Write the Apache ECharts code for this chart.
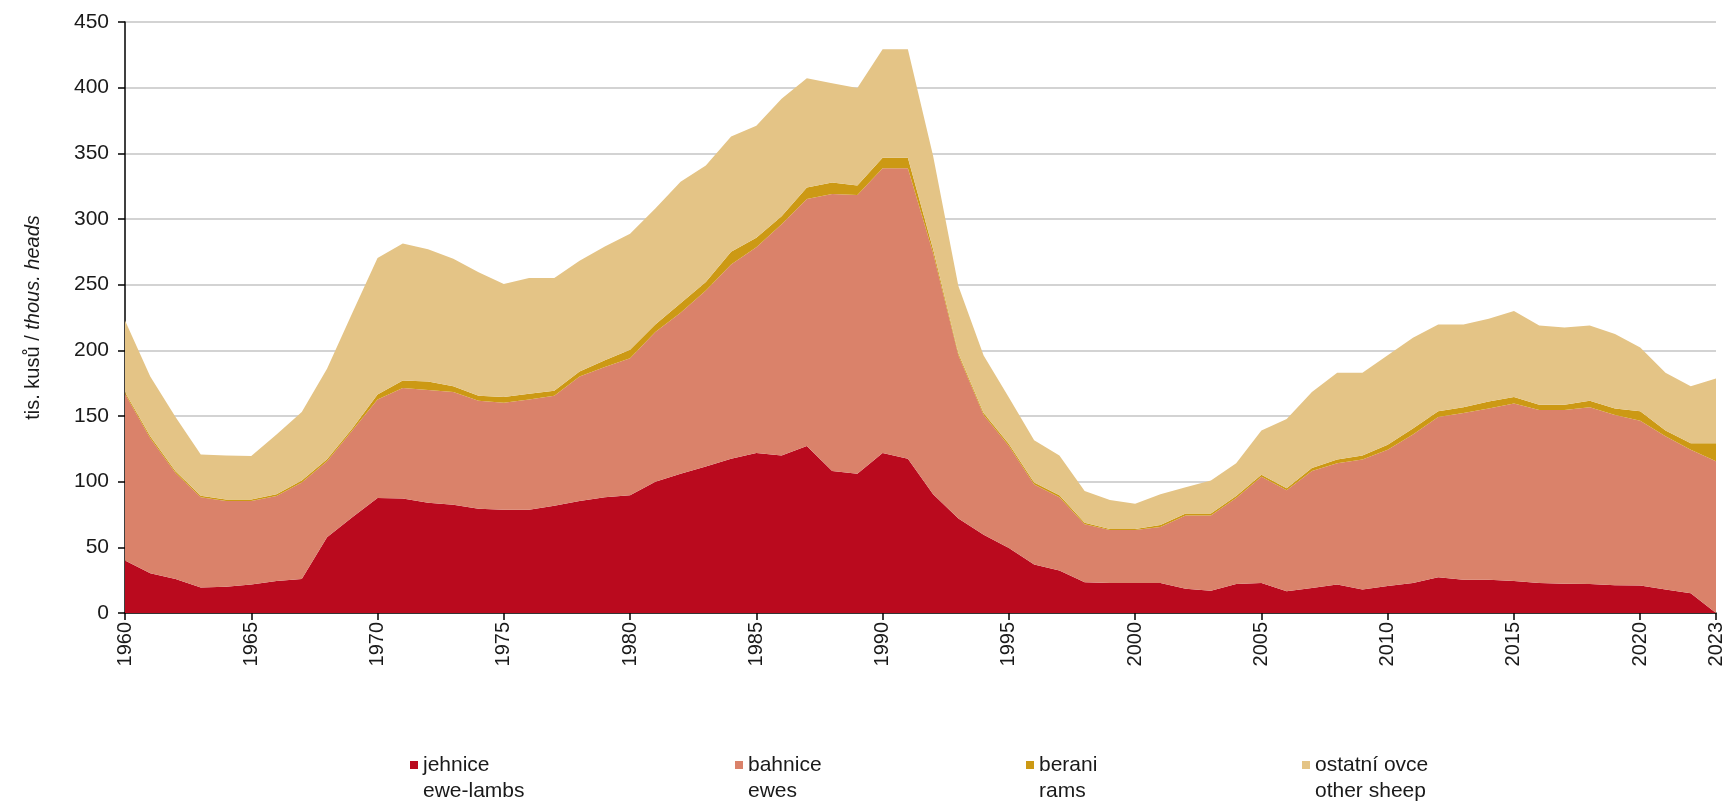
<!DOCTYPE html>
<html>
<head>
<meta charset="utf-8">
<script src="https://cdn.jsdelivr.net/npm/echarts@6/dist/echarts.min.js"></script>
<style>
html,body{margin:0;padding:0;background:#fff;}
#chart{width:1731px;height:802px;}
</style>
</head>
<body>
<div id="chart"></div>
<script>
const years = ['1960','1961','1962','1963','1964','1965','1966','1967','1968','1969',
  '1970','1971','1972','1973','1974','1975','1976','1977','1978','1979',
  '1980','1981','1982','1983','1984','1985','1986','1987','1988','1989',
  '1990','1991','1992','1993','1994','1995','1996','1997','1998','1999',
  '2000','2001','2002','2003','2004','2005','2006','2007','2008','2009',
  '2010','2011','2012','2013','2014','2015','2016','2017','2018','2019',
  '2020','2021','2022','2023'];
const shownYears = ['1960','1965','1970','1975','1980','1985','1990','1995','2000','2005','2010','2015','2020','2023'];

const eweLambs = [40,30.3,25.9,19.4,20,21.7,24.4,25.9,57.6,72.9,
  87.5,87.2,84,82.5,79.3,78.7,78.7,81.7,85.2,88.1,
  89.6,99.9,106,111.6,117.5,121.9,119.9,127.2,108.1,106,
  121.9,117.5,90.5,72,59.6,49.4,37,32.3,23.5,22.9,
  22.9,22.9,18.5,17,22,22.9,16.5,19,21.7,17.9,
  20.6,22.9,27.3,25.3,25.3,24.4,22.9,22.3,22,21.2,
  20.9,17.9,15,0];
const ewes = [126.9,102.7,80.7,68.7,65.2,63.5,64.6,73.4,57.9,66.1,
  75,84.1,85.8,85.8,82.3,81.4,83.8,83.7,94.8,99.3,
  104.3,114,122.6,134,147.8,156.6,176.1,188,210.9,212.2,
  216.8,221.2,183.5,124.2,91.1,77.8,60.8,55.8,44.1,40.3,
  40.3,42.6,55.8,57.3,65.5,80.8,76.9,89.1,92.3,99,
  103.7,113.1,121.9,126.9,130.4,135.1,131.6,132.2,134.6,129.5,
  125.4,116.6,109.3,115.5];
const rams = [1.4,1.5,1.4,1.2,1.2,1.2,1.5,1.5,1.5,1.4,
  3.8,5.8,6.5,4.4,3.8,4.4,4.4,3.8,3.9,5,
  6.5,5.8,7.3,6.4,9.7,7.3,6,8.8,8.8,7.3,
  7.9,7.9,3,1.5,1.5,1.5,1.5,1.5,1.1,0.8,
  0.8,1.5,1.5,1.5,1.5,1.5,1.5,2.4,2.9,3,
  3.8,4.4,4.4,4.4,5.3,5,4.1,4.1,5,5,
  7.3,4.5,5,13.8];
const otherSheep = [54.4,45.5,41.2,31.4,33.5,33.2,45.5,52.2,69,88.1,
  104,104.3,100.7,97,94,86.1,88.1,85.8,84.3,86.6,
  88.4,88.2,92.5,88.8,87.8,85.2,89.6,83.2,75.5,74.3,
  82.6,82.6,71,51.3,43.8,35.3,32.3,30.3,24.1,22.1,
  19.1,23.5,20,25,25,33.8,52.9,57.8,66.1,63.1,
  68.1,69.1,66.1,63.1,63.1,65.5,60.3,58.8,57.3,56.7,
  48.5,44,43.4,49.3];

const seriesNames = ['jehnice','bahnice','berani','ostatní ovce'];
const seriesNamesEn = ['ewe-lambs','ewes','rams','other sheep'];
const seriesData = [eweLambs, ewes, rams, otherSheep];
const colors = ['#BA0A1E','#DA826A','#CC9914','#E4C486'];
const legendLeft = [410, 735, 1026, 1302];

const FONT = '"Liberation Sans", Arial, sans-serif';
const TXT = '#1a1a1a';
const iconPath = 'path://M0,0h8v8h-8z M0,33.9h0.1v0.1h-0.1z';

const chart = echarts.init(document.getElementById('chart'), null, {renderer:'canvas'});

const option = {
  animation: false,
  backgroundColor: '#ffffff',
  textStyle: {fontFamily: FONT, color: TXT},
  grid: {left: 125, right: 15, top: 22, bottom: 189, containLabel: false},
  legend: seriesNames.map((n, i) => ({
    data: [n],
    left: legendLeft[i],
    top: 752,
    padding: 0,
    icon: iconPath,
    itemWidth: 8,
    itemHeight: 34,
    itemGap: 0,
    selectedMode: false,
    formatter: (name) => name + '\n' + seriesNamesEn[seriesNames.indexOf(name)],
    textStyle: {fontFamily: FONT, fontSize: 21, color: TXT, lineHeight: 26}
  })),
  xAxis: {
    type: 'category',
    data: years,
    boundaryGap: false,
    axisLine: {lineStyle: {color: '#000', width: 1.5}},
    axisTick: {
      show: true, length: 7, inside: false,
      interval: (idx, val) => shownYears.indexOf(val) >= 0,
      lineStyle: {color: '#000', width: 1.5}
    },
    axisLabel: {
      rotate: 90,
      margin: 9,
      interval: (idx, val) => shownYears.indexOf(val) >= 0,
      fontFamily: FONT, fontSize: 20, color: TXT
    },
    splitLine: {show: false}
  },
  yAxis: {
    type: 'value',
    min: 0, max: 450, interval: 50,
    name: '{n|tis. kusů / }{i|thous. heads}',
    nameLocation: 'middle',
    nameRotate: 90,
    nameGap: 82,
    nameTextStyle: {
      rich: {
        n: {fontFamily: FONT, fontSize: 20, color: TXT},
        i: {fontFamily: FONT, fontSize: 20, color: TXT, fontStyle: 'italic'}
      }
    },
    axisLine: {show: true, lineStyle: {color: '#000', width: 1.5}},
    axisTick: {show: true, length: 7, lineStyle: {color: '#000', width: 1.5}},
    axisLabel: {margin: 16, fontFamily: FONT, fontSize: 21, color: TXT},
    splitLine: {show: true, lineStyle: {color: '#c4c4c4', width: 1.5}}
  },
  series: seriesNames.map((n, i) => ({
    name: n,
    type: 'line',
    stack: 'total',
    data: seriesData[i],
    symbol: 'none',
    showSymbol: false,
    lineStyle: {width: 0},
    itemStyle: {color: colors[i]},
    areaStyle: {color: colors[i], opacity: 1},
    z: 2
  }))
};
chart.setOption(option);
</script>
</body>
</html>
